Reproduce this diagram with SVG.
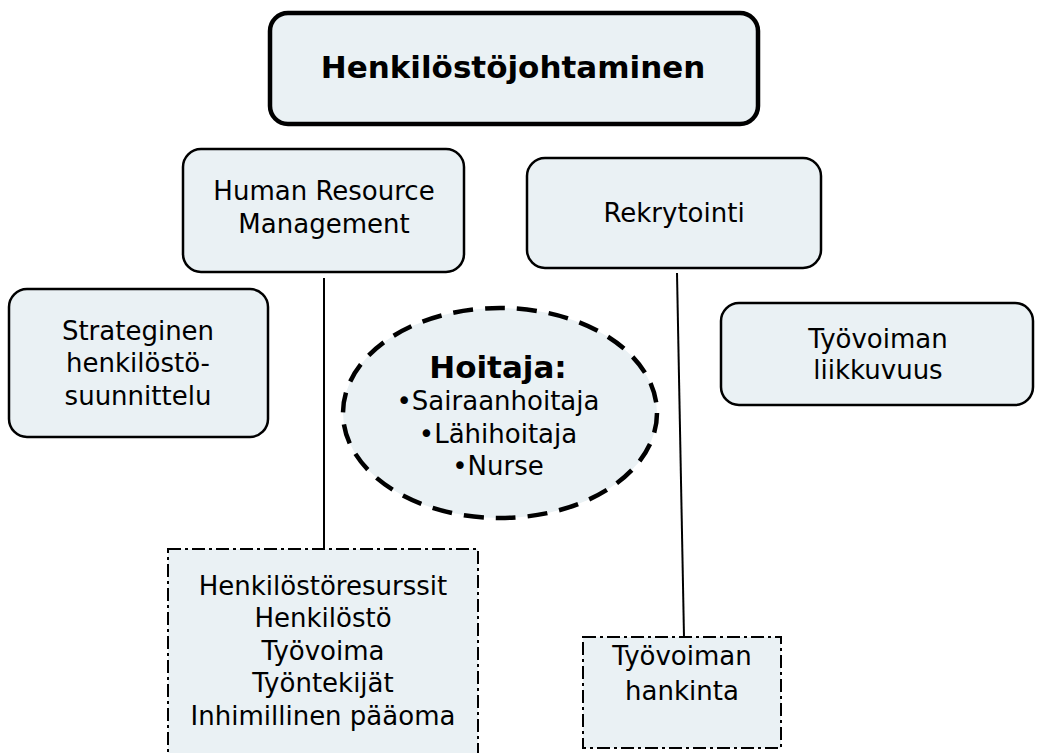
<svg xmlns="http://www.w3.org/2000/svg" width="1044" height="753" viewBox="0 0 1044 753">
<style>
.box{fill:#EAF1F4;stroke:#000;stroke-width:2.5}
.dd{fill:#EAF1F4;stroke:#000;stroke-width:2;stroke-dasharray:13 4 3 4}
.t{font-family:"DejaVu Sans",Verdana,sans-serif;font-size:26px;fill:#000;text-anchor:middle}
.b{font-family:"DejaVu Sans",Verdana,sans-serif;font-size:31px;font-weight:bold;fill:#000;text-anchor:middle}
.ln{stroke:#000;stroke-width:2;fill:none}
</style>
<rect width="1044" height="753" fill="#fff"/>
<g id="connectors">
<line class="ln" x1="324" y1="278" x2="324" y2="549"/>
<line class="ln" x1="677" y1="273" x2="684" y2="637"/>
</g>
<g id="n-henkilostojohtaminen">
<rect x="270" y="13" width="488" height="111" rx="18" fill="#EAF1F4" stroke="#000" stroke-width="4.5"/>
<text class="b" x="513" y="78">Henkilöstöjohtaminen</text>
</g>
<g id="n-hrm">
<rect class="box" x="183" y="149" width="281" height="123" rx="18"/>
<text class="t" x="324" y="200">Human Resource</text>
<text class="t" x="324" y="233">Management</text>
</g>
<g id="n-rekrytointi">
<rect class="box" x="527" y="158" width="294" height="110" rx="18"/>
<text class="t" x="674" y="222">Rekrytointi</text>
</g>
<g id="n-strateginen">
<rect class="box" x="9" y="289" width="259" height="148" rx="18"/>
<text class="t" x="138" y="340">Strateginen</text>
<text class="t" x="138" y="372">henkilöstö-</text>
<text class="t" x="138" y="405">suunnittelu</text>
</g>
<g id="n-liikkuvuus">
<rect class="box" x="721" y="303" width="312" height="102" rx="18"/>
<text class="t" x="878" y="348">Työvoiman</text>
<text class="t" x="878" y="379">liikkuvuus</text>
</g>
<g id="n-hoitaja">
<ellipse cx="500" cy="413" rx="157" ry="105" fill="#EAF1F4" stroke="#000" stroke-width="4.5" stroke-dasharray="20 12"/>
<text class="b" x="498" y="378">Hoitaja:</text>
<text class="t" x="498" y="410">•Sairaanhoitaja</text>
<text class="t" x="498" y="443">•Lähihoitaja</text>
<text class="t" x="498" y="475">•Nurse</text>
</g>
<g id="n-henkilostoresurssit">
<rect class="dd" x="168" y="549" width="310" height="220"/>
<text class="t" x="323" y="595">Henkilöstöresurssit</text>
<text class="t" x="323" y="627">Henkilöstö</text>
<text class="t" x="323" y="660">Työvoima</text>
<text class="t" x="323" y="692">Työntekijät</text>
<text class="t" x="323" y="725">Inhimillinen pääoma</text>
</g>
<g id="n-hankinta">
<rect class="dd" x="583" y="637" width="198" height="111"/>
<text class="t" x="682" y="665">Työvoiman</text>
<text class="t" x="682" y="700">hankinta</text>
</g>
</svg>
